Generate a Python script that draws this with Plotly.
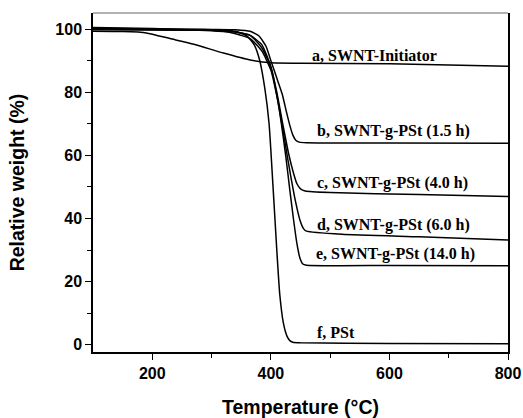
import plotly.graph_objects as go

# Temperature (°C) and relative weight (%)
t_a = [100, 150, 190, 230, 270, 320, 365, 400, 450, 600, 800]
w_a = [99.3, 99.2, 98.8, 97.0, 95.2, 92.4, 90.2, 89.3, 89.2, 89.0, 88.2]

t_b = [100, 200, 300, 340, 365, 380, 392, 400, 410, 419, 426, 432, 437, 442, 448, 460, 600, 800]
w_b = [100.3, 100.0, 99.9, 99.8, 99.3, 97.8, 94.5, 90.0, 84.5, 79.5, 74.0, 69.5, 66.5, 64.8, 64.2, 64.0, 63.9, 63.8]

t_c = [100, 200, 300, 330, 365, 385, 400, 410, 420, 430, 438, 444, 450, 458, 500, 650, 800]
w_c = [100.0, 99.8, 99.6, 99.3, 98.0, 94.0, 88.0, 80.0, 70.0, 60.5, 54.5, 51.0, 49.4, 48.7, 48.2, 47.6, 47.0]

t_d = [100, 200, 300, 330, 365, 385, 400, 412, 423, 433, 442, 449, 455, 460, 520, 650, 800]
w_d = [100.5, 100.2, 99.5, 99.0, 97.0, 93.0, 87.0, 77.0, 65.0, 54.0, 45.0, 39.5, 36.8, 36.0, 35.0, 34.2, 33.2]

t_e = [100, 200, 300, 330, 365, 385, 400, 412, 425, 432, 438, 444, 449, 454, 460, 600, 800]
w_e = [99.8, 99.7, 99.6, 99.4, 98.0, 95.0, 88.0, 77.0, 60.0, 49.0, 40.0, 32.0, 27.5, 25.6, 25.2, 25.1, 25.0]

t_f = [100, 200, 300, 340, 360, 372, 381, 390, 397, 404, 410, 415, 421, 427, 432, 437, 450, 600, 800]
w_f = [100.0, 100.0, 99.8, 99.3, 97.8, 95.0, 90.2, 81.0, 70.0, 49.0, 30.0, 16.0, 7.0, 2.8, 1.3, 0.8, 0.6, 0.4, 0.3]

series = [(t_a, w_a), (t_b, w_b), (t_c, w_c), (t_d, w_d), (t_e, w_e), (t_f, w_f)]

labels = ["a, SWNT-Initiator", "b, SWNT-g-PSt (1.5 h)", "c, SWNT-g-PSt (4.0 h)",
          "d, SWNT-g-PSt (6.0 h)", "e, SWNT-g-PSt (14.0 h)", "f, PSt"]
label_x = [466, 474, 474, 475, 472, 474]
label_y = [91.5, 67.6, 51.4, 37.8, 28.7, 4.0]

x_ticks = [200, 400, 600, 800]
y_ticks = [0, 20, 40, 60, 80, 100]

fig = go.Figure()
for t, w in series:
    fig.add_trace(go.Scatter(x=t, y=w, mode="lines",
                             line=dict(color="black", width=1.5, shape="spline", smoothing=0.5),
                             showlegend=False, hoverinfo="skip"))

for txt, lx, ly in zip(labels, label_x, label_y):
    fig.add_annotation(x=lx, y=ly, text="<b>" + txt + "</b>", showarrow=False,
                       xanchor="left", yanchor="middle",
                       font=dict(family="Liberation Serif", size=16, color="black"))

# grey top frame line
fig.add_shape(type="line", xref="paper", yref="paper", x0=0, x1=1, y0=1, y1=1,
              line=dict(color="#999999", width=1.5))

axis_font = dict(family="Liberation Sans", size=16, color="black")
title_font = dict(family="Liberation Sans", size=19.5, color="black")
fig.update_xaxes(range=[100, 800], tickvals=x_ticks,
                 ticktext=["<b>%d</b>" % v for v in x_ticks],
                 ticks="outside", ticklen=6, tickwidth=1.3, tickcolor="black",
                 minor=dict(tickvals=[300, 500, 700], ticks="outside", ticklen=4, tickcolor="black", tickwidth=1.3),
                 showline=True, linecolor="black", linewidth=1.8, mirror=False,
                 showgrid=False, zeroline=False, tickfont=axis_font, automargin=False,
                 title=dict(text="<b>Temperature (°C)</b>", font=title_font, standoff=19))
fig.update_yaxes(range=[-2.3, 105.1], tickvals=y_ticks,
                 ticktext=["<b>%d</b>" % v for v in y_ticks],
                 ticks="outside", ticklen=6, tickwidth=1.3, tickcolor="black",
                 minor=dict(tickvals=[10, 30, 50, 70, 90], ticks="outside", ticklen=4, tickcolor="black", tickwidth=1.3),
                 showline=True, linecolor="black", linewidth=1.5, mirror=True,
                 showgrid=False, zeroline=False, tickfont=axis_font, automargin=False,
                 title=dict(text="<b>Relative weight (%)</b>", font=title_font, standoff=26))

fig.update_layout(width=523, height=418, margin=dict(l=93, r=15, t=13, b=66),
                  plot_bgcolor="white", paper_bgcolor="white")

fig.write_html("out.html", config={"displayModeBar": False},
               post_script="document.body.style.margin='0';")
